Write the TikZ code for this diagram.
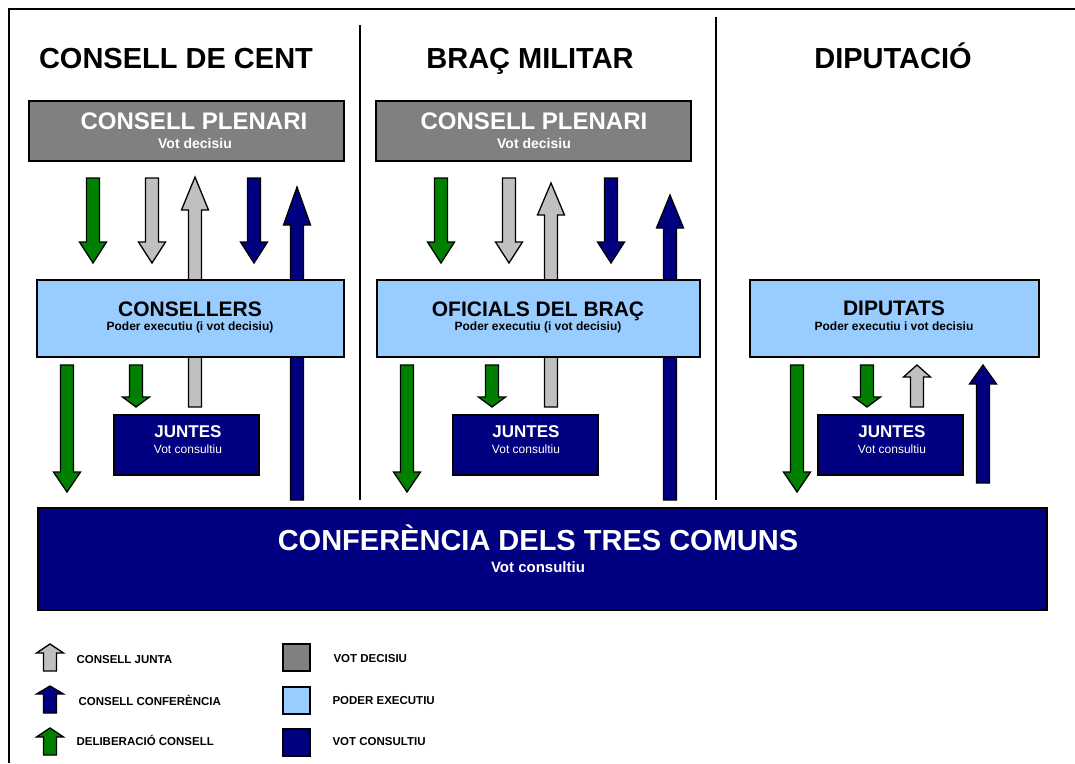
\documentclass[tikz,border=0pt]{standalone}
\usepackage{fontspec}
\setmainfont{Liberation Sans}
\usepackage{tikz}
\definecolor{plen}{RGB}{128,128,128}
\definecolor{exec}{RGB}{153,204,255}
\definecolor{cons}{RGB}{0,0,128}
\definecolor{delib}{RGB}{0,128,0}
\definecolor{junta}{RGB}{192,192,192}
\usetikzlibrary{positioning}

% block arrow: x, tail y, head base y, tip y, colour
\newcommand{\blockarr}[5]{%
  \draw [line width=1.3pt, color=black, fill=#5] (#1-6.5,#2) -- (#1+6.5,#2) -- (#1+6.5,#3) -- (#1+13.5,#3) -- (#1,#4) -- (#1-13.5,#3) -- (#1-6.5,#3) -- cycle;}

\begin{document}
\begin{tikzpicture}[x=1pt, y=-1pt,
  box/.style={rectangle, draw=black, line width=2pt},
  head/.style={anchor=base, font=\bfseries\fontsize{29}{29}\selectfont},
  legtext/.style={anchor=base west, font=\bfseries\fontsize{11.5}{11.5}\selectfont}]
\useasboundingbox (0,0) rectangle (1075,763);
\draw [line width=2pt] (1075,9) -- (9,9) -- (9,763);
\draw [line width=2.5pt] (360,25) -- (360,500);
\draw [line width=2.5pt] (716,17) -- (716,500);

\node (hcent) [head] at (176,68) {CONSELL DE CENT};
\node (hbrac) [head] at (530,68) {BRAÇ MILITAR};
\node (hdip) [head] at (893,68) {DIPUTACIÓ};

% arrows, drawn before the boxes
\blockarr{93}{178}{242}{263}{delib}
\blockarr{152}{178}{242}{263}{junta}
\blockarr{195}{407}{210}{177}{junta}
\blockarr{254}{178}{242}{263}{cons}
\blockarr{297}{500}{225}{187}{cons}
\blockarr{67}{365}{472}{492}{delib}
\blockarr{136}{365}{397}{407}{delib}

\blockarr{441}{178}{242}{263}{delib}
\blockarr{509}{178}{242}{263}{junta}
\blockarr{551}{407}{215}{183}{junta}
\blockarr{611}{178}{242}{263}{cons}
\blockarr{670}{500}{228}{195}{cons}
\blockarr{407}{365}{472}{492}{delib}
\blockarr{492}{365}{397}{407}{delib}

\blockarr{797}{365}{472}{492}{delib}
\blockarr{867}{365}{397}{407}{delib}
\blockarr{917}{407}{377}{365}{junta}
\blockarr{983}{483}{384}{365}{cons}

% boxes
\node (plenA) [box, fill=plen, minimum width=315pt, minimum height=60pt] at (186.5,131) {};
\node (plenB) [box, fill=plen, minimum width=315pt, minimum height=60pt] at (533.5,131) {};
\node [white, anchor=base, font=\bfseries\fontsize{24}{24}\selectfont] at (194,129.5) {CONSELL PLENARI};
\node [white, font=\bfseries\fontsize{14}{14}\selectfont] at (195,143) {Vot decisiu};
\node [white, anchor=base, font=\bfseries\fontsize{24}{24}\selectfont] at (534,129.5) {CONSELL PLENARI};
\node [white, font=\bfseries\fontsize{14}{14}\selectfont] at (534,143) {Vot decisiu};

\node (consA) [box, fill=exec, minimum width=307pt, minimum height=77pt] at (190.5,318.5) {};
\node (consB) [box, fill=exec, minimum width=323pt, minimum height=77pt] at (538.5,318.5) {};
\node (consC) [box, fill=exec, minimum width=289pt, minimum height=77pt] at (894.5,318.5) {};
\node [anchor=base, font=\bfseries\fontsize{21}{21}\selectfont] at (190,316.5) {CONSELLERS};
\node [font=\bfseries\fontsize{12}{12}\selectfont] at (190,327) {Poder executiu (i vot decisiu)};
\node [anchor=base, font=\bfseries\fontsize{21}{21}\selectfont] at (538,316.5) {OFICIALS DEL BRAÇ};
\node [font=\bfseries\fontsize{12}{12}\selectfont] at (538,327) {Poder executiu (i vot decisiu)};
\node [anchor=base, font=\bfseries\fontsize{21}{21}\selectfont] at (894,315.5) {DIPUTATS};
\node [font=\bfseries\fontsize{12}{12}\selectfont] at (894,326) {Poder executiu i vot decisiu};

\node (juntA) [box, fill=cons, minimum width=145pt, minimum height=60pt] at (186.5,445) {};
\node (juntB) [box, fill=cons, minimum width=145pt, minimum height=60pt] at (525.5,445) {};
\node (juntC) [box, fill=cons, minimum width=145pt, minimum height=60pt] at (890.5,445) {};
\foreach \x/\n in {188/A, 526/B, 892/C} {
  \node (jt\n) [white, font=\bfseries\fontsize{17}{17}\selectfont] at (\x,432) {JUNTES};
  \node (jv\n) [white, font=\fontsize{12}{12}\selectfont] at (\x,449) {Vot consultiu};
}

\node (conf) [box, fill=cons, minimum width=1009pt, minimum height=102pt] at (542.5,559) {};
\node [white, anchor=base, font=\bfseries\fontsize{29}{29}\selectfont] at (538,550.5) {CONFERÈNCIA DELS TRES COMUNS};
\node [white, font=\bfseries\fontsize{15}{15}\selectfont] at (538,567) {Vot consultiu};

% legend
\blockarr{50}{671}{653}{644}{junta}
\blockarr{50}{713}{694}{686}{cons}
\blockarr{50}{755}{737}{728}{delib}
\node [legtext] at (73,663) {CONSELL JUNTA};
\node [legtext] at (75,705) {CONSELL CONFERÈNCIA};
\node [legtext] at (73,745) {DELIBERACIÓ CONSELL};
\node (kplen) [box, fill=plen, minimum size=27pt] at (296.5,657.5) {};
\node (kexec) [box, fill=exec, minimum size=27pt] at (296.5,700) {};
\node (kcons) [box, fill=cons, minimum size=27pt] at (296.5,742.5) {};
\node [legtext] at (330,662) {VOT DECISIU};
\node [legtext] at (329,704) {PODER EXECUTIU};
\node [legtext] at (329,745) {VOT CONSULTIU};
\end{tikzpicture}
\end{document}
